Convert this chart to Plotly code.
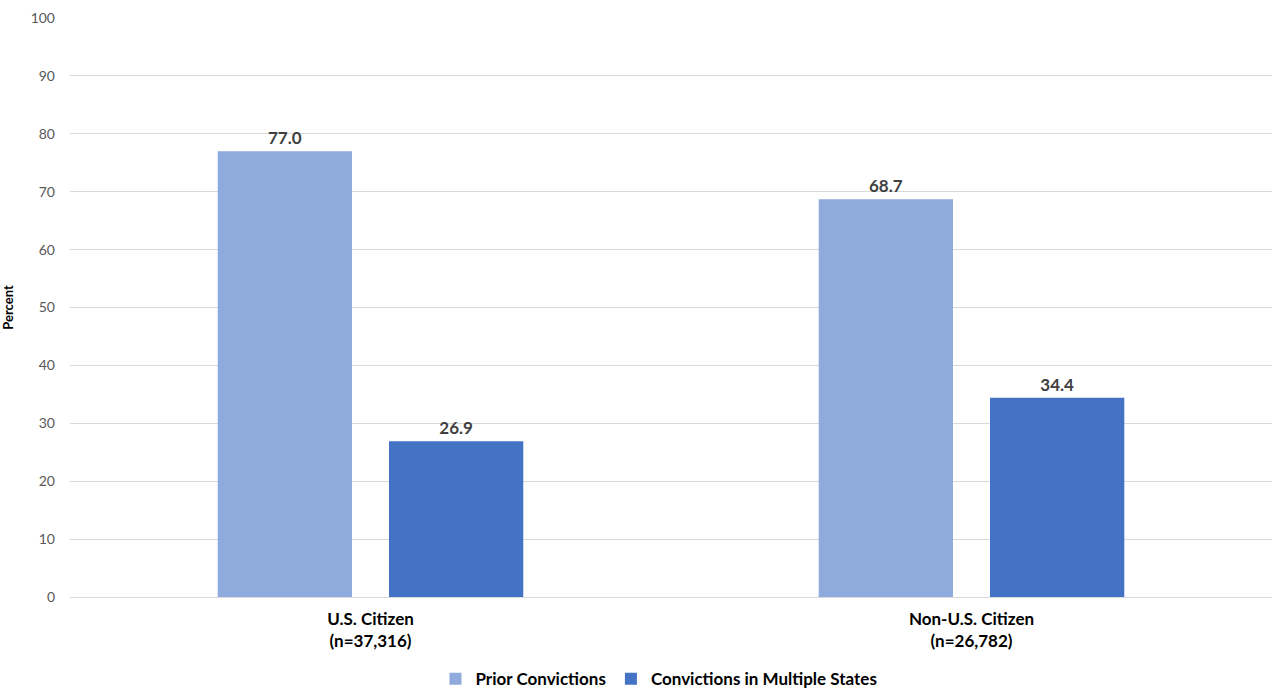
import plotly.graph_objects as go

categories = ["U.S. Citizen<br>(n=37,316)", "Non-U.S. Citizen<br>(n=26,782)"]
prior_convictions = [77.0, 68.7]
multiple_states = [26.9, 34.4]
y_ticks = [0, 10, 20, 30, 40, 50, 60, 70, 80, 90, 100]

FONT = "Lato, 'Open Sans', sans-serif"
LABEL_FONT = dict(family=FONT, size=17, color="#404040", weight="bold")

fig = go.Figure()
fig.add_trace(go.Bar(
    name="Prior Convictions",
    x=categories, y=prior_convictions,
    marker=dict(color="#8FAADC", line=dict(width=0)),
    text=[f"{v:.1f}" for v in prior_convictions],
    textposition="outside", cliponaxis=False,
    textfont=LABEL_FONT,
))
fig.add_trace(go.Bar(
    name="Convictions in Multiple States",
    x=categories, y=multiple_states,
    marker=dict(color="#4472C4", line=dict(width=0)),
    text=[f"{v:.1f}" for v in multiple_states],
    textposition="outside", cliponaxis=False,
    textfont=LABEL_FONT,
))

fig.update_layout(
    width=1272, height=688,
    margin=dict(l=70, r=0, t=18, b=91, autoexpand=False),
    paper_bgcolor="white", plot_bgcolor="white",
    barmode="group", bargap=0.43, bargroupgap=0.216,
    font=dict(family=FONT, color="#595959"),
    showlegend=True,
    legend=dict(
        orientation="h", x=0.49, xanchor="center", y=-0.142, yanchor="middle",
        font=dict(family=FONT, size=17, color="#000000", weight="bold"),
        traceorder="normal", itemwidth=30,
    ),
)
fig.update_xaxes(
    showgrid=False, showline=False, ticks="",
    tickfont=dict(family=FONT, size=17, color="#000000", weight="bold"),
    ticklabelstandoff=10,
)
fig.update_yaxes(
    range=[0, 100], tickvals=y_ticks,
    showgrid=True, gridcolor="#D9D9D9", gridwidth=1,
    zeroline=True, zerolinecolor="#D9D9D9", zerolinewidth=1,
    tickfont=dict(family=FONT, size=14, color="#595959"),
    ticks="", ticklabelstandoff=14,
    title=dict(text="Percent", font=dict(family=FONT, size=13, color="#000000", weight="bold"), standoff=14),
)

fig.write_html("out.html")
